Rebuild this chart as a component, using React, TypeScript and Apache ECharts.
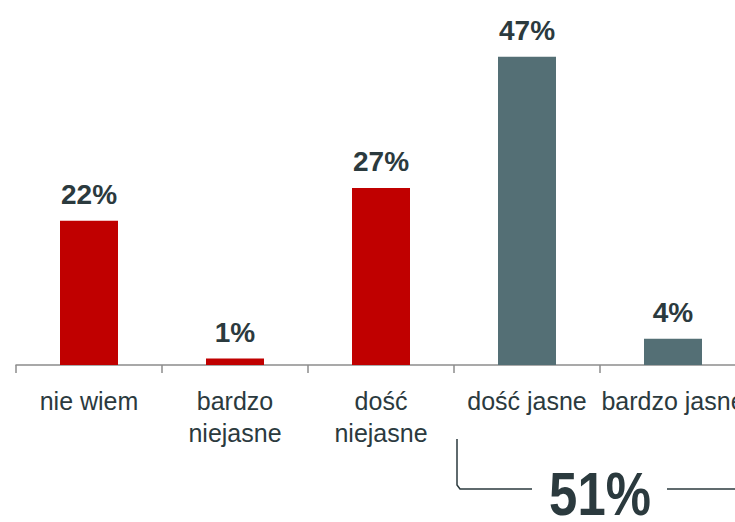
import React, { useEffect, useRef } from "react";
import * as echarts from "echarts";

const categories = ["nie wiem", "bardzo\nniejasne", "dość\nniejasne", "dość jasne", "bardzo jasne"];
const values = [22, 1, 27, 47, 4];
const barColors = ["#C00000", "#C00000", "#C00000", "#546F75", "#546F75"];
const summaryLabel = "51%";

const FONT = "'Liberation Sans', Arial, sans-serif";
const TEXT = "#2B3A3E";

export default function App() {
  const ref = useRef<HTMLDivElement>(null);
  useEffect(() => {
    document.body.style.margin = "0";
    const chart = echarts.init(ref.current!, null, { renderer: "svg" });
    chart.setOption({
      animation: false,
      backgroundColor: "#ffffff",
      grid: { left: 16, right: -11, top: 37, bottom: 157, containLabel: false, outerBoundsMode: "none" },
      xAxis: {
        type: "category",
        data: categories,
        axisLine: { lineStyle: { color: "#8C8C8C", width: 1.5 } },
        axisTick: { show: true, length: 8, lineStyle: { color: "#8C8C8C", width: 1.5 } },
        axisLabel: {
          interval: 0,
          margin: 20,
          fontFamily: FONT,
          fontSize: 25,
          lineHeight: 32,
          color: TEXT,
        },
      },
      yAxis: { type: "value", min: 0, max: 50, show: false, splitLine: { show: false } },
      series: [
        {
          type: "bar",
          barWidth: 58,
          data: values.map((v, i) => ({ value: v, itemStyle: { color: barColors[i] } })),
          label: {
            show: true,
            position: "top",
            distance: 12,
            formatter: "{c}%",
            fontFamily: FONT,
            fontSize: 28,
            fontWeight: "bold",
            color: TEXT,
          },
        },
      ],
      graphic: [
        {
          type: "polyline",
          shape: { points: [[457, 439], [457, 485], [460, 489], [532, 489]] },
          style: { stroke: TEXT, lineWidth: 1.5, fill: "none" },
        },
        {
          type: "line",
          shape: { x1: 667, y1: 489, x2: 740, y2: 489 },
          style: { stroke: TEXT, lineWidth: 1.5 },
        },
        {
          type: "text",
          x: 600,
          y: 494,
          scaleX: 0.82,
          style: {
            text: summaryLabel,
            fontFamily: FONT,
            fontSize: 62,
            fontWeight: "bold",
            fill: TEXT,
            align: "center",
            verticalAlign: "middle",
          },
        },
      ],
    });
    return () => chart.dispose();
  }, []);
  return <div ref={ref} style={{ position: "absolute", left: 0, top: 0, width: 735, height: 522 }} />;
}
